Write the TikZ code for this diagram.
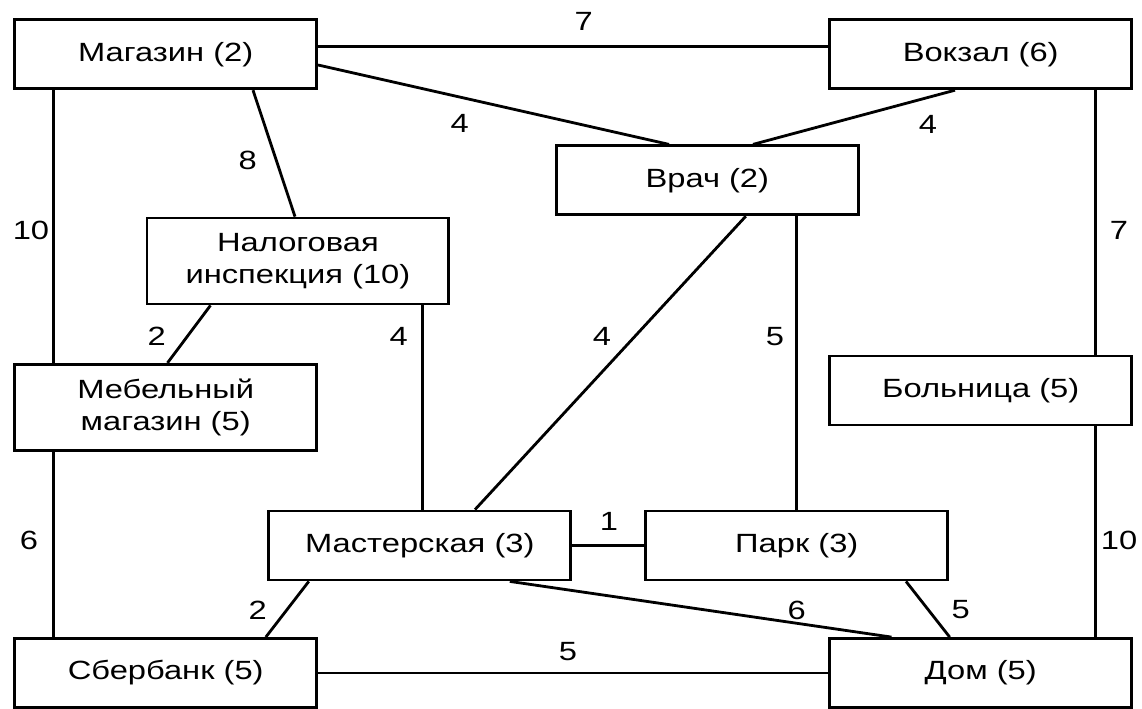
\documentclass[tikz,border=0pt]{standalone}
\usepackage{fontspec}
\setmainfont{Liberation Sans}[FakeStretch=1.24]
\usetikzlibrary{calc}

\begin{document}
\begin{tikzpicture}[x=0.02cm,y=-0.02cm,line width=1.6pt,
    font=\fontsize{15}{18}\selectfont,
    place/.style={draw,minimum width=6.04cm,minimum height=1.38cm,inner sep=0pt,align=center},
    tall/.style={minimum height=1.72cm},
    weight/.style={inner sep=1pt}]

    \useasboundingbox (0,0) rectangle (1142,709);

    % Places
    \node[place] (mag) at (165.7,54.3) {Магазин (2)};
    \node[place] (vok) at (980.7,54.3) {Вокзал (6)};
    \node[place] (vrach) at (707.3,180.3) {Врач (2)};
    \node[place,tall] (nalog) at (297.9,261) {Налоговая\\инспекция (10)};
    \node[place,tall] (meb) at (165.7,407.3) {Мебельный\\магазин (5)};
    \node[place] (boln) at (980.7,390.5) {Больница (5)};
    \node[place] (master) at (419.8,545.5) {Мастерская (3)};
    \node[place] (park) at (796.8,545.5) {Парк (3)};
    \node[place] (sber) at (165.7,673) {Сбербанк (5)};
    \node[place] (dom) at (980.7,673) {Дом (5)};

    % Roads
    \draw ($(mag.east)+(0,-8)$) -- ($(vok.west)+(0,-8)$);
    \draw ($(mag.east)+(0,10.7)$) -- ($(vrach.north)+(-38.3,0)$);
    \draw ($(vok.south)+(-25.7,0)$) -- ($(vrach.north)+(45.7,0)$);
    \draw ($(mag.south)+(87.3,0)$) -- ($(nalog.north)+(-2.9,0)$);
    \draw ($(mag.south west)+(40,0)$) -- ($(meb.north west)+(40,0)$);
    \draw ($(nalog.south)+(-87.4,0)$) -- ($(meb.north)+(1.8,0)$);
    \draw ($(nalog.south)+(124.5,0)$) -- ($(master.north)+(2.6,0)$);
    \draw ($(vrach.south)+(38.5,0)$) -- ($(master.north)+(55.2,0)$);
    \draw ($(vrach.south)+(89.5,0)$) -- (park.north);
    \draw ($(vok.south east)+(-37.5,0)$) -- ($(boln.north east)+(-37.5,0)$);
    \draw ($(boln.south east)+(-37.5,0)$) -- ($(dom.north east)+(-37.5,0)$);
    \draw ($(meb.south west)+(40,0)$) -- ($(sber.north west)+(40,0)$);
    \draw (master.east) -- (park.west);
    \draw ($(master.south)+(-111,0)$) -- ($(sber.north)+(100.1,0)$);
    \draw ($(master.south)+(90,0)$) -- ($(dom.north)+(-89.2,0)$);
    \draw ($(park.south)+(109.2,0)$) -- ($(dom.north)+(-31,0)$);
    \draw (sber.east) -- (dom.west);

    % Distances
    \foreach \n/\x/\y/\d in {a/583.7/21.7/7, b/459.6/123/4, c/928/124/4,
        d/247.6/160.7/8, e/31/230/10, f/1119/230/7, g/156.6/336.7/2,
        h/398.7/336.7/4, i/602/336.7/4, j/775/336.7/5, k/29/540/6,
        l/609/521.7/1, m/1119/540/10, n/257.8/610/2, o/796.8/610/6,
        p/960.7/610/5, q/568/651.7/5} {
      \node[weight] (w\n) at (\x,\y) {\d};
    }
  \end{tikzpicture}
\end{document}
